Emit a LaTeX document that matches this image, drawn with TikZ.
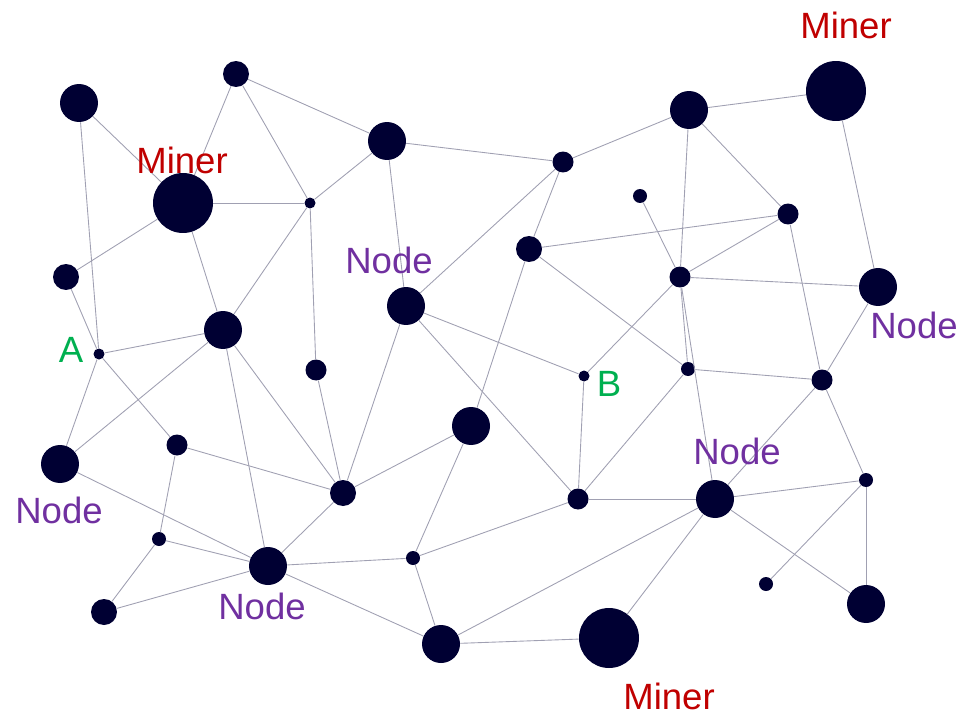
\documentclass[tikz,border=0pt]{standalone}
\usepackage{fontspec}
\setmainfont{Liberation Sans}
\definecolor{peer}{RGB}{0,0,51}
\definecolor{wire}{RGB}{160,160,178}
\definecolor{minerred}{RGB}{192,0,0}
\definecolor{nodepurple}{RGB}{112,48,160}
\definecolor{endgreen}{RGB}{0,176,80}

\begin{document}
\begin{tikzpicture} [
    x=0.02cm, y=-0.02cm,
    dot/.style={circle,fill=peer,inner sep=0pt},
    miner/.style={dot,minimum size=1.2cm},
    big/.style={dot,minimum size=0.76cm},
    mid/.style={dot,minimum size=0.52cm},
    small/.style={dot,minimum size=0.42cm},
    tiny/.style={dot,minimum size=0.28cm},
    pin/.style={dot,minimum size=0.22cm},
    tag/.style={font=\fontsize{20.8}{24}\selectfont,inner sep=0pt},
    minertag/.style={tag,text=minerred},
    nodetag/.style={tag,text=nodepurple},
    endtag/.style={tag,text=endgreen},
    ]
    \useasboundingbox (0,0) rectangle (966,716);
    % Top band
    \node[big] (n1) at (79,103) {};
    \node[mid] (n2) at (236,74) {};
    \node[big] (n3) at (387,141) {};
    \node[small] (n4) at (563,162) {};
    \node[big] (n5) at (689,110) {};
    \node[miner] (n6) at (836,91) {};
    \node[miner] (n7) at (183,203) {};
    \node[pin] (n8) at (310,203) {};
    \node[tiny] (n9) at (640,196) {};
    \node[small] (n10) at (788,214) {};
    \node[mid] (n11) at (529,249) {};
    \node[mid] (n12) at (66,277) {};
    \node[small] (n13) at (680,277) {};
    \node[big] (n14) at (878,287) {};
    % Middle band
    \node[big] (n15) at (406,306) {};
    \node[big] (n16) at (223,330) {};
    \node[pin] (a) at (99,354) {};
    \node[small] (n18) at (316,370) {};
    \node[pin] (b) at (584,376) {};
    \node[tiny] (n20) at (688,369) {};
    \node[small] (n21) at (822,380) {};
    \node[big] (n22) at (471,426) {};
    \node[small] (n23) at (177,445) {};
    \node[big] (n24) at (60,464) {};
    % Bottom band
    \node[mid] (n25) at (343,493) {};
    \node[small] (n26) at (578,499) {};
    \node[big] (n27) at (715,499) {};
    \node[tiny] (n28) at (866,480) {};
    \node[tiny] (n29) at (159,539) {};
    \node[big] (n30) at (268,566) {};
    \node[tiny] (n31) at (413,558) {};
    \node[tiny] (n32) at (766,584) {};
    \node[big] (n33) at (866,604) {};
    \node[mid] (n34) at (104,612) {};
    \node[big] (n35) at (441,644) {};
    \node[miner] (n36) at (609,638) {};
    % Links
    \path [draw=wire,line width=0.5pt]
    (n1) edge (n7) (n1) edge (a)
    (n2) edge (n7) (n2) edge (n8) (n2) edge (n3)
    (n3) edge (n8) (n3) edge (n4) (n3) edge (n15)
    (n4) edge (n5) (n4) edge (n15) (n4) edge (n11)
    (n5) edge (n6) (n5) edge (n10) (n5) edge (n13)
    (n6) edge (n14)
    (n7) edge (n8) (n7) edge (n12) (n7) edge (n16)
    (n8) edge (n16) (n8) edge (n18)
    (n9) edge (n13)
    (n10) edge (n11) (n10) edge (n13) (n10) edge (n21)
    (n11) edge (n20) (n11) edge (n22)
    (n12) edge (a)
    (n13) edge (n14) (n13) edge (b) (n13) edge (n20) (n13) edge (n27)
    (n14) edge (n21)
    (n15) edge (b) (n15) edge (n25) (n15) edge (n26)
    (n16) edge (a) (n16) edge (n24) (n16) edge (n30) (n16) edge (n25)
    (a) edge (n24) (a) edge (n23)
    (n18) edge (n25)
    (b) edge (n26)
    (n20) edge (n21) (n20) edge (n26)
    (n21) edge (n27) (n21) edge (n28)
    (n22) edge (n25) (n22) edge (n31)
    (n23) edge (n25) (n23) edge (n29)
    (n24) edge (n30)
    (n25) edge (n30)
    (n26) edge (n27) (n26) edge (n31)
    (n27) edge (n28) (n27) edge (n33) (n27) edge (n35) (n27) edge (n36)
    (n28) edge (n33) (n28) edge (n32)
    (n29) edge (n30) (n29) edge (n34)
    (n30) edge (n34) (n30) edge (n31) (n30) edge (n35)
    (n31) edge (n35)
    (n35) edge (n36);
    % Labels
    \node[minertag] (t1) at (846,25) {Miner};
    \node[minertag] (t2) at (182,160) {Miner};
    \node[minertag] (t3) at (669,696) {Miner};
    \node[nodetag] (t4) at (389,260) {Node};
    \node[nodetag] (t5) at (914,325) {Node};
    \node[nodetag] (t6) at (737,451) {Node};
    \node[nodetag] (t7) at (59,510) {Node};
    \node[nodetag] (t8) at (262,606) {Node};
    \node[endtag] (ta) at (71,350) {A};
    \node[endtag] (tb) at (609,384) {B};
  \end{tikzpicture}
\end{document}
